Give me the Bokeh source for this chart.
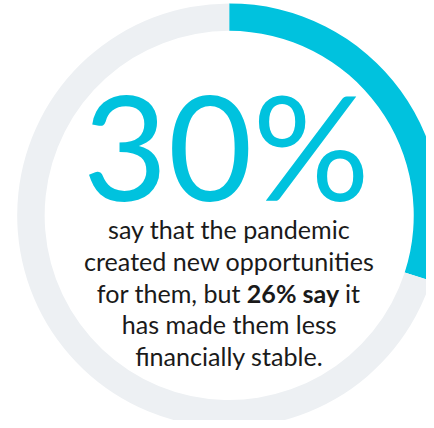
import math
from bokeh.plotting import figure
from bokeh.models import Range1d
from bokeh.core.properties import value
from bokeh.embed import file_html
from bokeh.resources import INLINE

# Data
shares = [30, 70]
share_colors = ["#00C2DE", "#EDF0F3"]
headline = "30%"
body_lines = ["say that the pandemic", "created new opportunities", None,
              "has made them less", "financially stable."]
mixed_line = ["for them, but", "26% say", "it"]

REF_W, REF_H = 434, 428
W, H = 426, 420
k = W / REF_W  # figure px per reference px

p = figure(width=W, height=H, x_range=Range1d(0, REF_W), y_range=Range1d(0, REF_H),
           output_backend="svg", toolbar_location=None, min_border=0)
p.axis.visible = False
p.grid.visible = False
p.outline_line_color = None
p.background_fill_color = "white"
p.border_fill_color = "white"

def fpx(s):
    return f"{s * k:.1f}px"

def anchor(Yb, size, frac):
    # baseline (reference px from top) -> data y of the text anchor
    return REF_H - (Yb - frac * size)

cx, cy = 233, REF_H - 219
r_out, r_in = 216, 188

total = sum(shares)
start = math.pi / 2
for v, c in zip(shares, share_colors):
    end = start - 2 * math.pi * v / total
    p.annular_wedge(x=cx, y=cy, inner_radius=r_in, outer_radius=r_out,
                    start_angle=end, end_angle=start, direction="anticlock",
                    fill_color=c, line_color=None)
    start = end

big = 149
p.text(x=[230], y=[anchor(200, big, 0.36)], text=[headline], text_font=value("Lato"),
       text_font_size=fpx(big), text_color="#00C2DE", text_align="center",
       text_baseline="alphabetic")

baselines = [241, 273.3, 305.7, 337.5, 370]
txt_color = "#1a1a1a"
fs = 25.6
fr = 0.30
for Yb, t in zip(baselines, body_lines):
    if t is None:
        continue
    p.text(x=[233], y=[anchor(Yb, fs, fr)], text=[t], text_font=value("Lato"),
           text_font_size=fpx(fs), text_color=txt_color, text_align="center",
           text_baseline="alphabetic")

yb = anchor(baselines[2], fs, fr)
p.text(x=[245], y=[yb], text=[mixed_line[0]], text_font=value("Lato"), text_font_size=fpx(fs),
       text_color=txt_color, text_align="right", text_baseline="alphabetic")
p.text(x=[298], y=[yb], text=[mixed_line[1]], text_font=value("Lato"), text_font_size=fpx(fs),
       text_font_style="bold", text_color=txt_color, text_align="center", text_baseline="alphabetic")
p.text(x=[351], y=[yb], text=[mixed_line[2]], text_font=value("Lato"), text_font_size=fpx(fs),
       text_color=txt_color, text_align="left", text_baseline="alphabetic")

open("out.html", "w").write(file_html(p, INLINE))
